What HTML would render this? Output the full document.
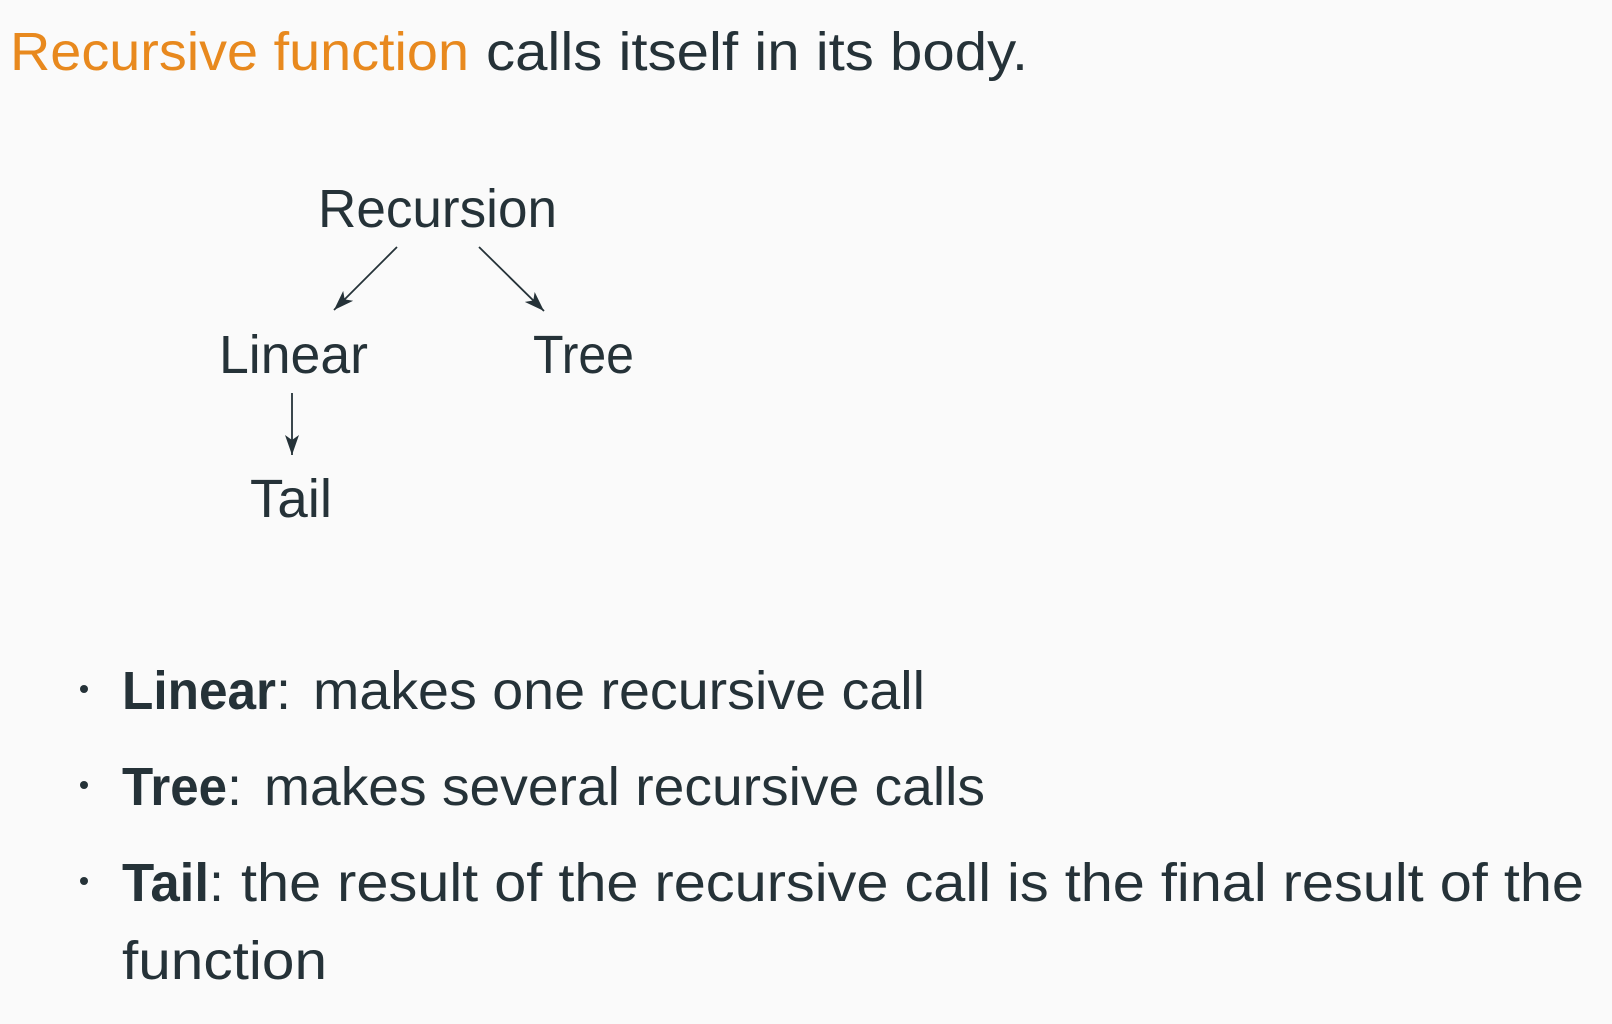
<!DOCTYPE html>
<html><head><meta charset="utf-8"><style>
html,body{margin:0;padding:0;background:#fafafa;}
svg{display:block}
text{font-family:"Liberation Sans",sans-serif;fill:#253238;font-size:54px;}
.b{font-weight:bold}
</style></head><body>
<svg width="1612" height="1024" viewBox="0 0 1612 1024" xmlns="http://www.w3.org/2000/svg">
<rect width="1612" height="1024" fill="#fafafa"/>
<defs><marker id="a" viewBox="0 0 10 10" refX="9" refY="5" markerWidth="10" markerHeight="10" markerUnits="userSpaceOnUse" orient="auto"><path d="M0,0 L10,5 L0,10 L3,5 z" fill="#253238"/></marker>
<marker id="m" viewBox="0 0 20 14" refX="20" refY="7" markerWidth="20" markerHeight="14" markerUnits="userSpaceOnUse" orient="auto"><path d="M0,0 L20,7 L0,14 L5,7 z" fill="#253238"/></marker></defs>
<text x="10" y="70" textLength="459" lengthAdjust="spacingAndGlyphs" style="fill:#e8891e">Recursive function</text>
<text x="486" y="70" textLength="542" lengthAdjust="spacingAndGlyphs">calls itself in its body.</text>
<text x="318" y="227" textLength="239" lengthAdjust="spacingAndGlyphs">Recursion</text>
<text x="219" y="373" textLength="149" lengthAdjust="spacingAndGlyphs">Linear</text>
<text x="533" y="373" textLength="101" lengthAdjust="spacingAndGlyphs">Tree</text>
<text x="250" y="517" textLength="82" lengthAdjust="spacingAndGlyphs">Tail</text>
<g stroke="#253238" stroke-width="1.8" fill="none">
<line x1="397" y1="247" x2="334" y2="310" marker-end="url(#m)"/>
<line x1="479" y1="247" x2="544" y2="311" marker-end="url(#m)"/>
<line x1="292" y1="393" x2="292" y2="455" marker-end="url(#m)"/>
</g>
<circle cx="84" cy="689" r="4" fill="#253238"/>
<circle cx="84" cy="785" r="4" fill="#253238"/>
<circle cx="84" cy="881" r="4" fill="#253238"/>
<text x="122" y="709" class="b" textLength="154" lengthAdjust="spacingAndGlyphs">Linear</text>
<text x="276" y="709">:</text>
<text x="313" y="709" textLength="612" lengthAdjust="spacingAndGlyphs">makes one recursive call</text>
<text x="122" y="805" class="b" textLength="105" lengthAdjust="spacingAndGlyphs">Tree</text>
<text x="227" y="805">:</text>
<text x="264" y="805" textLength="721" lengthAdjust="spacingAndGlyphs">makes several recursive calls</text>
<text x="122" y="901" class="b" textLength="87" lengthAdjust="spacingAndGlyphs">Tail</text>
<text x="209" y="901">:</text>
<text x="241" y="901" textLength="1343" lengthAdjust="spacingAndGlyphs">the result of the recursive call is the final result of the</text>
<text x="122" y="979" textLength="205" lengthAdjust="spacingAndGlyphs">function</text>
</svg>
</body></html>
